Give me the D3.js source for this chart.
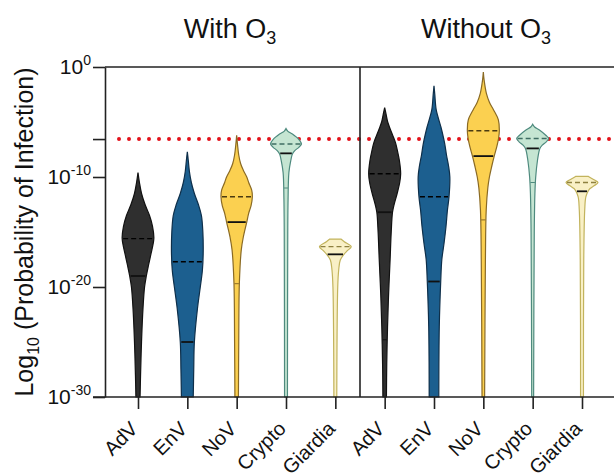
<!DOCTYPE html>
<html lang="en">
<head>
<meta charset="UTF-8">
<title>Probability of infection</title>
<script src="https://d3js.org/d3.v7.min.js"></script>
<style>
    body { margin: 0; background: #fff; }
    svg { display: block; font-family: "Liberation Sans", Arial, sans-serif; }
</style>
</head>
<body>
<script>
    const width = 614;
    const height = 474;

    const panels = ["With", "Without"];
    const categories = ["AdV", "EnV", "NoV", "Crypto", "Giardia"];
    const yTicks = [0, -10, -20, -30];
    const threshold = -6.55;

    // violin outlines: [log10 P, relative density]
    const withAdV = [[-9.6,0],[-10.5,.09],[-11.5,.22],[-12.5,.44],[-13.5,.72],[-14.5,.91],[-15.6,.99],[-17,.81],[-18,.66],[-19,.52],[-20,.41],[-22,.31],[-25,.22],[-28,.16],[-30,.13]];
    const withEnV = [[-7.7,0],[-8.5,.06],[-9.5,.13],[-10.5,.25],[-11.5,.44],[-12.5,.69],[-13.5,.88],[-15,.97],[-17,.99],[-18.5,.94],[-20,.81],[-22,.63],[-25,.44],[-27.5,.4],[-30,.37]];
    const withNoV = [[-6.2,0],[-7,.05],[-8,.13],[-8.8,.25],[-9.4,.42],[-10,.63],[-10.5,.75],[-11.2,.94],[-11.8,.98],[-12.6,.9],[-13.3,.75],[-14.1,.63],[-15.5,.41],[-16.6,.29],[-19.6,.17],[-25,.13],[-30,.11]];
    const withCrypto = [[-5.6,0],[-5.85,.12],[-6.1,.4],[-6.6,.81],[-7.0,.97],[-7.3,.8],[-7.6,.55],[-7.9,.4],[-8.5,.3],[-9.6,.18],[-12,.13],[-15,.11],[-30,.09]];
    const withGiardia = [[-15.64,.35],[-15.88,.56],[-16.33,.99],[-16.7,.75],[-17.03,.54],[-17.55,.31],[-18.45,.21],[-20,.15],[-30,.09]];

    const withoutAdV = [[-3.7,0],[-4.3,.09],[-5,.19],[-5.5,.31],[-6.2,.5],[-6.9,.68],[-7.7,.81],[-8.5,.92],[-9.7,1],[-10.5,.94],[-11.5,.78],[-12.5,.59],[-13.2,.49],[-15,.41],[-17.5,.34],[-20.5,.25],[-23.6,.18],[-27,.13],[-30,.11]];
    const withoutEnV = [[-1.7,0],[-2.5,.05],[-3.9,.14],[-5.5,.44],[-6.9,.66],[-8,.78],[-9,.91],[-10,.99],[-11.8,.94],[-13,.84],[-14.5,.75],[-16,.63],[-17.5,.49],[-19.5,.42],[-23.6,.33],[-30,.3]];
    const withoutNoV = [[-0.45,0],[-1.2,.05],[-2.4,.19],[-3.2,.38],[-3.9,.64],[-4.8,.94],[-5.8,1],[-6.5,.95],[-7.2,.85],[-8.1,.68],[-9,.53],[-10,.38],[-11,.28],[-13,.18],[-17.5,.13],[-30,.08]];
    const withoutCrypto = [[-5.2,0],[-5.45,.12],[-5.7,.4],[-6.2,.82],[-6.5,1],[-6.8,.85],[-7.1,.6],[-7.4,.45],[-8.5,.3],[-10,.19],[-11.5,.14],[-15,.1],[-30,.06]];
    const withoutGiardia = [[-9.95,.4],[-10.25,.75],[-10.5,1],[-10.8,.75],[-11.05,.5],[-11.3,.38],[-11.8,.24],[-13,.17],[-17.5,.11],[-30,.09]];

    const withViolins = [withAdV, withEnV, withNoV, withCrypto, withGiardia];
    const withoutViolins = [withoutAdV, withoutEnV, withoutNoV, withoutCrypto, withoutGiardia];

    // [dashed line, solid line, faint line] in log10 P
    const withLines = [[-15.6,-19,null],[-17.7,-25,null],[-11.8,-14.1,-19.7],[-7.0,-7.85,-11],[-16.33,-17.03,null]];
    const withoutLines = [[-9.7,-13.2,-24.8],[-11.8,-19.5,null],[-5.8,-8.1,-13.9],[-6.5,-7.4,-10.5],[-10.5,-11.3,null]];

    const fills = ["#2f2f2f", "#1c5f8f", "#fbd050", "#c5e5d2", "#f9f0c6"];
    const strokes = ["#111111", "#0e2f4a", "#8a6a24", "#4e8a7e", "#c2b35c"];
    const dashColors = ["#000000", "#000000", "#4a3a10", "#3f6d63", "#8e8140"];

    const plotLeft = 105, plotRight = 614, plotTop = 67, plotBottom = 397, divider = 360;

    const svg = d3.select("body").append("svg")
        .attr("width", width).attr("height", height);

    const y = d3.scaleLinear().domain([-30, 0]).range([plotBottom, plotTop]);
    const x = d3.scalePoint().domain(d3.range(10)).range([138, 582]);
    const w = d3.scaleLinear().domain([0, 1]).range([0, 16]);

    function densityAt(profile, v) {
        for (let k = 0; k < profile.length - 1; k++) {
            const a = profile[k], b = profile[k + 1];
            if (v <= a[0] && v >= b[0]) {
                const t = (a[0] - v) / (a[0] - b[0]);
                return a[1] + t * (b[1] - a[1]);
            }
        }
        return 0;
    }

    // threshold dotted line (behind violins)
    svg.append("line")
        .attr("x1", 119).attr("x2", plotRight)
        .attr("y1", y(threshold)).attr("y2", y(threshold))
        .attr("stroke", "#e3121b").attr("stroke-width", 4)
        .attr("stroke-linecap", "round").attr("stroke-dasharray", "0 10");

    // violins
    [withViolins, withoutViolins].forEach(function(violins, p) {
        const lines = p === 0 ? withLines : withoutLines;
        violins.forEach(function(profile, i) {
            const cx = x(p * 5 + i);
            const area = d3.area()
                .curve(d3.curveCatmullRom)
                .y(d => y(d[0]))
                .x0(d => cx - w(d[1]))
                .x1(d => cx + w(d[1]));
            svg.append("path")
                .attr("d", area(profile))
                .attr("fill", fills[i])
                .attr("stroke", strokes[i])
                .attr("stroke-width", 1.2);

            const [dashed, solid, faint] = lines[i];
            const seg = (v, inset) => {
                const hw = Math.max(w(densityAt(profile, v)) - inset, 1);
                return svg.append("line")
                    .attr("x1", cx - hw).attr("x2", cx + hw)
                    .attr("y1", y(v)).attr("y2", y(v));
            };
            seg(dashed, 1).attr("stroke", dashColors[i]).attr("stroke-width", 1.4)
                .attr("stroke-dasharray", "5 3");
            seg(solid, 1).attr("stroke", "#111").attr("stroke-width", 1.8);
            if (faint !== null) {
                seg(faint, 0.5).attr("stroke", strokes[i]).attr("stroke-width", 1);
            }
        });
    });

    // frame
    const frame = svg.append("g").attr("stroke", "#222").attr("stroke-width", 1.6);
    frame.append("line").attr("x1", plotLeft).attr("x2", plotRight).attr("y1", plotTop).attr("y2", plotTop);
    frame.append("line").attr("x1", divider).attr("x2", divider).attr("y1", plotTop).attr("y2", plotBottom);
    frame.append("line").attr("x1", plotLeft - 12).attr("x2", plotRight).attr("y1", plotBottom).attr("y2", plotBottom);

    // y axis
    const yAxis = svg.append("g")
        .attr("transform", `translate(${plotLeft},0)`)
        .call(d3.axisLeft(y).tickValues([...yTicks, threshold]).tickSize(12).tickSizeOuter(0).tickFormat(""));
    yAxis.select(".domain").attr("stroke", "#222").attr("stroke-width", 1.6);
    yAxis.selectAll(".tick line").attr("stroke", "#222").attr("stroke-width", 1.6);

    svg.append("g").selectAll("text").data(yTicks).join("text")
        .attr("x", 91).attr("y", d => y(d) + 7)
        .attr("text-anchor", "end").attr("font-size", 21).attr("fill", "#111")
        .each(function(d) {
            const t = d3.select(this);
            t.append("tspan").text("10");
            t.append("tspan").attr("dy", -9).attr("font-size", 14).text(d === 0 ? "0" : "-" + Math.abs(d));
        });

    // x axis ticks and labels
    const xAxis = svg.append("g")
        .attr("transform", `translate(0,${plotBottom})`)
        .call(d3.axisBottom(x).tickSize(12).tickSizeOuter(0).tickFormat(""));
    xAxis.select(".domain").remove();
    xAxis.selectAll(".tick line").attr("stroke", "#222").attr("stroke-width", 1.6);

    svg.append("g").selectAll("text").data(d3.range(10)).join("text")
        .attr("transform", d => `translate(${x(d) + 1},${plotBottom + 33}) rotate(-45)`)
        .attr("text-anchor", "end").attr("font-size", 20).attr("fill", "#111")
        .text(d => categories[d % 5]);

    // panel titles
    panels.forEach(function(name, p) {
        const t = svg.append("text")
            .attr("x", p === 0 ? 230 : 486).attr("y", 38)
            .attr("text-anchor", "middle").attr("font-size", 27).attr("fill", "#111");
        t.append("tspan").text(name + " O");
        t.append("tspan").attr("dy", 6).attr("font-size", 18).text("3");
    });

    // y axis title
    const yt = svg.append("text")
        .attr("transform", "translate(33,232) rotate(-90)")
        .attr("text-anchor", "middle").attr("font-size", 25).attr("fill", "#111");
    yt.append("tspan").text("Log");
    yt.append("tspan").attr("dy", 6).attr("font-size", 16).text("10");
    yt.append("tspan").attr("dy", -6).text(" (Probability of Infection)");
</script>
</body>
</html>
